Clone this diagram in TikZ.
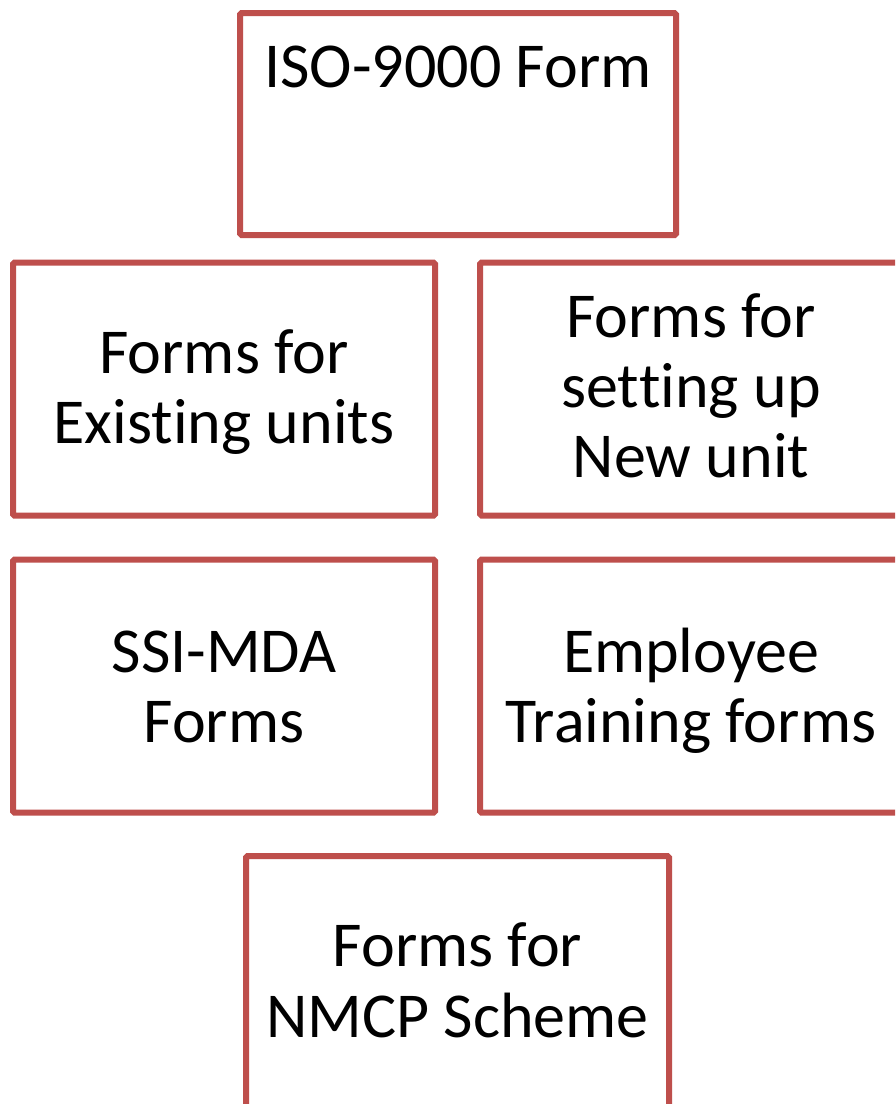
\documentclass[tikz,border=0pt]{standalone}
\usepackage{fontspec}
\setmainfont{Carlito}[Ligatures={NoCommon,NoContextual,NoRequired}]
\definecolor{boxred}{HTML}{BE4F4C}
\newcommand{\nolig}{\kern0pt{}}
\begin{document}
\begin{tikzpicture}[x=1pt,y=-1pt,
  box/.style={draw=boxred,line width=6pt,rounded corners=1.5pt,rectangle,inner sep=0pt,outer sep=0pt},
  lbl/.style={font=\fontsize{64}{70}\selectfont,anchor=base,inner sep=0pt,outer sep=0pt}]
\useasboundingbox (0,0) rectangle (895,1104);
\fill[white] (0,0) rectangle (895,1104);
\begin{scope}
\clip (0,0) rectangle (895,1104);
\node[box,minimum width=436pt,minimum height=222pt] (iso) at (458,124) {};
\node[box,minimum width=422pt,minimum height=253pt] (exist) at (224,389) {};
\node[box,minimum width=422pt,minimum height=253pt] (new) at (691,389) {};
\node[box,minimum width=422pt,minimum height=253pt] (ssi) at (224,686) {};
\node[box,minimum width=422pt,minimum height=253pt] (emp) at (691,686) {};
\node[box,minimum width=423pt,minimum height=253pt] (nmcp) at (457.5,982.5) {};
\end{scope}
\node[lbl] (isoT) at (458,87) {ISO-9000 Form};
\node[lbl] (existA) at (224,373) {Forms for};
\node[lbl] (existB) at (224,443) {Exist\nolig ing units};
\node[lbl] (newA) at (691,337) {Forms for};
\node[lbl] (newB) at (691,407) {set\nolig t\nolig ing up};
\node[lbl] (newC) at (691,477) {New unit};
\node[lbl] (ssiA) at (224,672) {SSI-MDA};
\node[lbl] (ssiB) at (224,742) {Forms};
\node[lbl] (empA) at (691,672) {Employee};
\node[lbl] (empB) at (691,742) {Training forms};
\node[lbl] (nmcpA) at (457.5,966) {Forms for};
\node[lbl] (nmcpB) at (457.5,1037) {NMCP Scheme};
\end{tikzpicture}
\end{document}
